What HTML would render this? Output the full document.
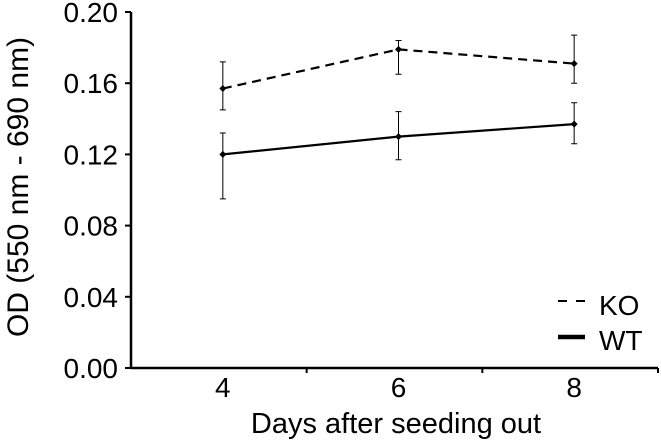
<!DOCTYPE html>
<html><head><meta charset="utf-8"><style>
body{margin:0;background:#fff}
svg text{font-family:"Liberation Sans",Arial,sans-serif;fill:#000}
</style></head><body>
<svg width="661" height="441" xmlns="http://www.w3.org/2000/svg">
<g id="g"></g>
</svg>
<script>
const categories=["4","6","8"];
const koValues=[0.157,0.179,0.171];
const koUpper=[0.172,0.184,0.187];
const koLower=[0.145,0.165,0.160];
const wtValues=[0.120,0.130,0.137];
const wtUpper=[0.132,0.144,0.149];
const wtLower=[0.095,0.117,0.126];
const yTicks=[0,0.04,0.08,0.12,0.16,0.20];
const yTickLabels=["0.00","0.04","0.08","0.12","0.16","0.20"];

const NS="http://www.w3.org/2000/svg";
const g=document.getElementById('g');
const X0=131,X1=658,Y0=368,Y1=12;
function y(v){return Y0-(v-0)/(0.20)*(Y0-Y1);}
const bw=(X1-X0)/categories.length;
function x(i){return X0+bw*(i+0.5)+4;}
function el(t,a){const e=document.createElementNS(NS,t);for(const k in a)e.setAttribute(k,a[k]);g.appendChild(e);return e;}

let e=el('line',{x1:X0,y1:Y1,x2:X0,y2:Y0,stroke:'#000','stroke-width':2.5});


e=el('line',{x1:X0,y1:Y0,x2:X1,y2:Y0,stroke:'#000','stroke-width':2.5});


yTicks.forEach((v,i)=>{
  const t=el('line',{x1:X0-6,y1:y(v),x2:X0,y2:y(v),stroke:'#000','stroke-width':2});
  
  
  const l=el('text',{x:X0-13,y:y(v)+10,'text-anchor':'end','font-size':28});
  l.textContent=yTickLabels[i];
  
  
});
for(let i=1;i<=categories.length;i++){
  const t=el('line',{x1:X0+bw*i,y1:Y0,x2:X0+bw*i,y2:Y0+5,stroke:'#000','stroke-width':2});
  
  
}
categories.forEach((c,i)=>{
  const l=el('text',{x:x(i),y:397,'text-anchor':'middle','font-size':28});
  l.textContent=c;
  
  
});
function series(vals,up,lo,dash,name){
  const p=el('polyline',{points:vals.map((v,i)=>x(i)+','+y(v)).join(' '),fill:'none',stroke:'#000','stroke-width':2.2,'stroke-dasharray':dash});
  
  
  vals.forEach((v,i)=>{
    const eb=el('path',{d:`M${x(i)},${y(up[i])}V${y(lo[i])}M${x(i)-3},${y(up[i])}h6M${x(i)-3},${y(lo[i])}h6`,stroke:'#000','stroke-width':1,fill:'none'});
    
    
    const m=el('path',{d:`M${x(i)},${y(v)-3.5}l3.5,3.5l-3.5,3.5l-3.5,-3.5z`,fill:'#000'});
    
    
  });
}
series(wtValues,wtUpper,wtLower,'none','wt');
series(koValues,koUpper,koLower,'9,6','ko');

e=el('line',{x1:558,y1:301,x2:585,y2:301,stroke:'#000','stroke-width':2,'stroke-dasharray':'9,9'});


e=el('text',{x:599,y:315,'font-size':28});e.textContent='KO';


e=el('line',{x1:558,y1:337,x2:585,y2:337,stroke:'#000','stroke-width':4.5});


e=el('text',{x:599,y:350,'font-size':28});e.textContent='WT';



e=el('text',{x:396,y:433,'text-anchor':'middle','font-size':29});e.textContent='Days after seeding out';


e=el('text',{x:0,y:0,'text-anchor':'middle','font-size':30,transform:'translate(28,187) rotate(-90)'});e.textContent='OD (550 nm - 690 nm)';


</script>
</body></html>
